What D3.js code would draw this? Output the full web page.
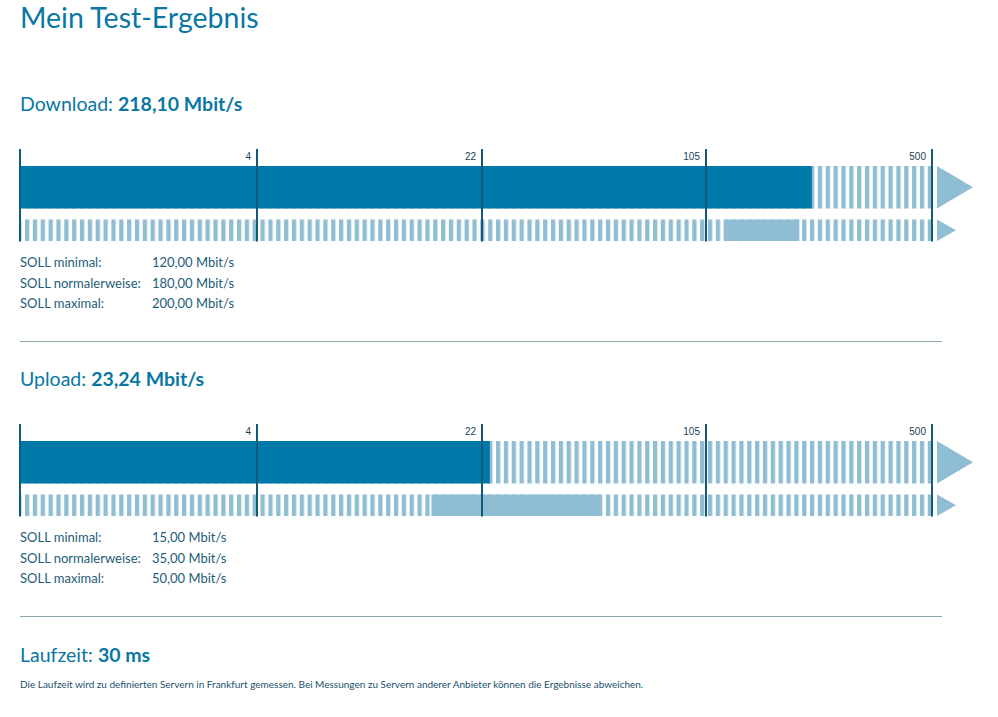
<!DOCTYPE html>
<html><head><meta charset="utf-8">
<script src="https://cdn.jsdelivr.net/npm/d3@7"></script>
<style>body{margin:0;background:#fff}svg{display:block}</style>
</head><body>
<script>
// ---- data ----
const title = "Mein Test-Ergebnis";
const tickValues = [4, 22, 105, 500];
const tickLabels = ["4", "22", "105", "500"];
const measures = ["Download", "Upload"];
const measured = [218.10, 23.24];
const sollMinimal = [120, 15];
const sollNormal = [180, 35];
const sollMaximal = [200, 50];
const sollLabels = ["SOLL minimal:", "SOLL normalerweise:", "SOLL maximal:"];
const unit = "Mbit/s";
const latencyLabel = "Laufzeit";
const latencyMs = 30;
const footnote = "Die Laufzeit wird zu definierten Servern in Frankfurt gemessen. Bei Messungen zu Servern anderer Anbieter können die Ergebnisse abweichen.";

// ---- style ----
const W = 998, H = 717;
const C_MAIN = "#0079a8", C_LIGHT = "#8fbdd3", C_TICK = "#145a78", C_HEAD = "#0a77a3", C_TEXT = "#1d5c7a";
const FONT = "Lato, 'Open Sans', sans-serif";

const de = d3.formatLocale({decimal: ",", thousands: ".", grouping: [3], currency: ["", "€"]});
const f2 = de.format(",.2f");

// piecewise scale: linear up to first tick, logarithmic between ticks
const xFirst = d3.scaleLinear().domain([0, tickValues[0]]).range([20, 257]);
const xLog = d3.scaleLog().domain(tickValues).range([257, 482, 706, 932]);
const x = v => v <= tickValues[0] ? xFirst(v) : xLog(v);

const svg = d3.select("body").append("svg").attr("width", W).attr("height", H)
  .style("font-family", FONT);

const defs = svg.append("defs");
const pat = defs.append("pattern").attr("id", "stripes").attr("patternUnits", "userSpaceOnUse")
  .attr("x", 25).attr("y", 0).attr("width", 7.85).attr("height", 10);
pat.append("rect").attr("x", 0).attr("y", 0).attr("width", 4.3).attr("height", 10).attr("fill", C_LIGHT);

svg.append("text").attr("x", 20).attr("y", 28).attr("fill", C_HEAD)
  .style("font-size", "28.5px").text(title);

const x0 = x(0), xEnd = x(tickValues[tickValues.length - 1]);

measures.forEach((m, i) => {
  const oy = i * 275;
  const g = svg.append("g").attr("transform", `translate(0,${oy})`);

  const h = g.append("text").attr("x", 20).attr("y", 111).attr("fill", C_HEAD).style("font-size", "19.5px");
  h.append("tspan").text(m + ": ");
  h.append("tspan").style("font-weight", 700).text(f2(measured[i]) + " " + unit);

  // row 1
  g.append("rect").attr("x", x0 + 1).attr("y", 166).attr("width", xEnd - 2 - x0).attr("height", 42.5).attr("fill", "url(#stripes)");
  g.append("rect").attr("x", x0 + 1).attr("y", 166).attr("width", x(measured[i]) - x0 - 1).attr("height", 42.5).attr("fill", C_MAIN);
  // row 2
  g.append("rect").attr("x", x0 + 1).attr("y", 219.5).attr("width", xEnd - 2 - x0).attr("height", 21.5).attr("fill", "url(#stripes)");
  g.append("rect").attr("x", x(sollMinimal[i])).attr("y", 219.5).attr("width", x(sollMaximal[i]) - x(sollMinimal[i])).attr("height", 21.5).attr("fill", C_LIGHT);

  // arrows
  const p1 = d3.path(); p1.moveTo(xEnd + 5, 166); p1.lineTo(xEnd + 41, 187.25); p1.lineTo(xEnd + 5, 208.5); p1.closePath();
  g.append("path").attr("d", p1.toString()).attr("fill", C_LIGHT);
  const p2 = d3.path(); p2.moveTo(xEnd + 5, 219.5); p2.lineTo(xEnd + 24, 230.25); p2.lineTo(xEnd + 5, 241); p2.closePath();
  g.append("path").attr("d", p2.toString()).attr("fill", C_LIGHT);

  // ticks
  [0].concat(tickValues).forEach(t => {
    g.append("line").attr("x1", x(t)).attr("x2", x(t)).attr("y1", 149).attr("y2", 241.5)
      .attr("stroke", C_TICK).attr("stroke-width", 2);
  });
  tickValues.forEach((t, k) => {
    g.append("text").attr("x", x(t) - 6).attr("y", 160).attr("text-anchor", "end")
      .attr("fill", "#1c3f55").style("font-family", "'Liberation Sans', Arial, sans-serif").style("font-size", "10px")
      .text(tickLabels[k]);
  });

  // SOLL lines
  const vals = [sollMinimal[i], sollNormal[i], sollMaximal[i]];
  sollLabels.forEach((l, k) => {
    g.append("text").attr("x", 20).attr("y", 267 + k * 20.5).attr("fill", C_TEXT).style("font-size", "13px").text(l);
    g.append("text").attr("x", 152).attr("y", 267 + k * 20.5).attr("fill", C_TEXT).style("font-size", "13px").text(f2(vals[k]) + " " + unit);
  });

  g.append("line").attr("x1", 20).attr("x2", 942).attr("y1", 341.5).attr("y2", 341.5)
    .attr("stroke", "#8ea6b0").attr("stroke-width", 1);
});

const lt = svg.append("text").attr("x", 20).attr("y", 662).attr("fill", C_HEAD).style("font-size", "19.5px");
lt.append("tspan").text(latencyLabel + ": ");
lt.append("tspan").style("font-weight", 700).text(latencyMs + " ms");

svg.append("text").attr("x", 20).attr("y", 688).attr("fill", "#1a4f6e").style("font-size", "10px").text(footnote);
</script>
</body></html>
